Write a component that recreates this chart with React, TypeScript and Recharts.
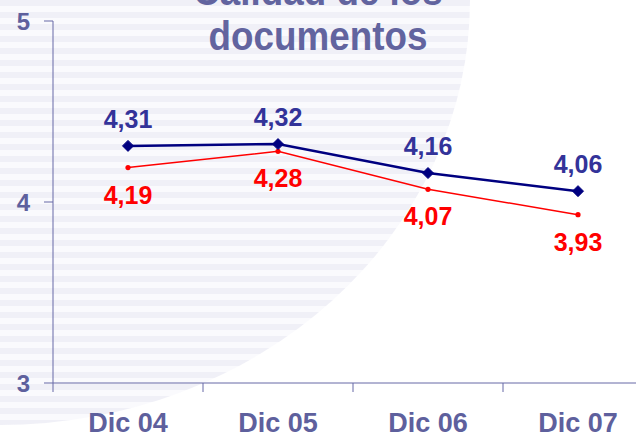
import { CartesianGrid, LabelList, Line, LineChart, XAxis, YAxis } from "recharts";

// Calidad de los documentos — dos series, Dic 04 a Dic 07
const PERIODS = ["Dic 04", "Dic 05", "Dic 06", "Dic 07"];
const SERIES_BLUE = [4.31, 4.32, 4.16, 4.06];
const SERIES_RED = [4.19, 4.28, 4.07, 3.93];
const Y_TICKS = [3, 4, 5];

const data = PERIODS.map((period, i) => ({
  period,
  blue: SERIES_BLUE[i],
  red: SERIES_RED[i],
}));

const FONT = '"Liberation Sans", Arial, sans-serif';
const AXIS = "#6769a6";
const TEXT = "#5e609d";
const NAVY = "#000080";
const LABEL_BLUE = "#333399";
const RED = "#ff0000";
const HALF_BAND = 75;

const fmt = (v: number) => v.toFixed(2).replace(".", ",");

function XTick({ x, y, payload }: any) {
  return (
    <g>
      <line x1={x - HALF_BAND} y1={y} x2={x - HALF_BAND} y2={y + 9} stroke={AXIS} strokeWidth={1} />
      <text x={x} y={y + 49} textAnchor="middle" fill={TEXT} fontSize={27} fontWeight={700} fontFamily={FONT}>
        {payload.value}
      </text>
    </g>
  );
}

function Diamond({ cx, cy }: any) {
  if (cx == null || cy == null) return null;
  const r = 5.5;
  return (
    <polygon
      points={`${cx},${cy - r} ${cx + r},${cy} ${cx},${cy + r} ${cx - r},${cy}`}
      fill={NAVY}
      stroke={NAVY}
    />
  );
}

function SmallDot({ cx, cy }: any) {
  if (cx == null || cy == null) return null;
  return <circle cx={cx} cy={cy} r={2.6} fill={RED} />;
}

function BlueLabel({ x, y, value }: any) {
  return (
    <text x={x} y={y - 18} textAnchor="middle" fill={LABEL_BLUE} fontSize={25} fontWeight={700} fontFamily={FONT}>
      {fmt(value)}
    </text>
  );
}

function RedLabel({ x, y, value }: any) {
  return (
    <text x={x} y={y + 36} textAnchor="middle" fill={RED} fontSize={25} fontWeight={700} fontFamily={FONT}>
      {fmt(value)}
    </text>
  );
}

export default function App() {
  return (
    <div
      style={{
        position: "absolute",
        left: 0,
        top: 0,
        width: 636,
        height: 435,
        overflow: "hidden",
        background: "#ffffff",
      }}
    >
      <div
        style={{
          position: "absolute",
          inset: 0,
          background: "repeating-linear-gradient(to bottom, #f0f0f7 0px, #f0f0f7 6px, #fafafd 6px, #fafafd 12px)",
          clipPath: "ellipse(470px 425px at 0px 0px)",
        }}
      />
      <div
        style={{
          position: "absolute",
          left: 0,
          width: 636,
          top: -31,
          textAlign: "center",
          fontFamily: FONT,
          fontWeight: 700,
          fontSize: 40,
          lineHeight: "45px",
          color: "#62649f",
          transform: "scaleX(0.92)",
        }}
      >
        Calidad de los
        <br />
        documentos
      </div>
      <div style={{ position: "absolute", left: 0, top: 0 }}>
        <LineChart width={653} height={435} data={data} margin={{ top: 21, right: 0, bottom: 0, left: 0 }}>
          <CartesianGrid stroke="none" />
          <XAxis
            dataKey="period"
            height={52}
            padding={{ left: HALF_BAND, right: HALF_BAND }}
            axisLine={{ stroke: AXIS, strokeWidth: 1 }}
            tickLine={false}
            tickSize={0}
            tickMargin={0}
            tick={<XTick />}
            interval={0}
          />
          <YAxis
            domain={[3, 5]}
            ticks={Y_TICKS}
            width={53}
            axisLine={{ stroke: AXIS, strokeWidth: 1 }}
            tickLine={{ stroke: AXIS, strokeWidth: 1 }}
            tickSize={9}
            tickMargin={14}
            tick={{ fill: TEXT, fontSize: 24, fontWeight: 700, fontFamily: FONT }}
          />
          <Line
            dataKey="red"
            stroke={RED}
            strokeWidth={1.5}
            dot={<SmallDot />}
            activeDot={false}
            isAnimationActive={false}
          >
            <LabelList dataKey="red" content={<RedLabel />} />
          </Line>
          <Line
            dataKey="blue"
            stroke={NAVY}
            strokeWidth={2.5}
            dot={<Diamond />}
            activeDot={false}
            isAnimationActive={false}
          >
            <LabelList dataKey="blue" content={<BlueLabel />} />
          </Line>
        </LineChart>
      </div>
    </div>
  );
}
